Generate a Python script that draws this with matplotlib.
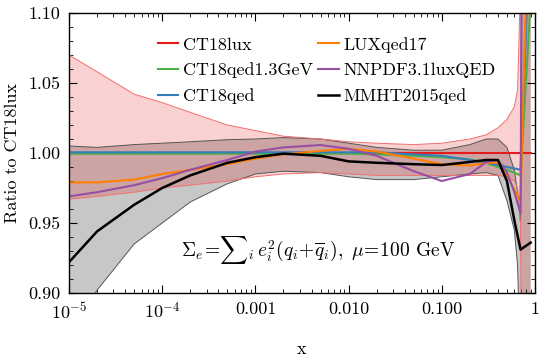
import numpy as np
import matplotlib
matplotlib.use('Agg')
import matplotlib.pyplot as plt
from matplotlib.ticker import MultipleLocator, NullFormatter

plt.rcParams['font.family'] = 'serif'
plt.rcParams['font.serif'] = ['cmr10']
plt.rcParams['mathtext.fontset'] = 'cm'
plt.rcParams['axes.unicode_minus'] = False
plt.rcParams['axes.formatter.use_mathtext'] = True

# x points for the central ratios
x_line = [1e-5, 2e-5, 5e-5, 1e-4, 2e-4, 5e-4, 1e-3, 2e-3, 5e-3, 0.01, 0.02, 0.05,
          0.1, 0.2, 0.3, 0.4, 0.5, 0.6, 0.7, 0.9]
ct18lux = [1.0]*20
ct18qed13 = [0.9995, 0.9995, 0.9995, 0.9995, 0.9995, 0.9995, 0.9995, 0.9995, 0.9995, 0.9995,
             0.999, 0.998, 0.997, 0.9955, 0.993, 0.990, 0.988, 0.986, 0.984, 1.11]
ct18qed = [1.0005, 1.0005, 1.0005, 1.0005, 1.0005, 1.0005, 1.0005, 1.0005, 1.0005, 1.0005,
           1.0005, 0.999, 0.998, 0.995, 0.993, 0.9915, 0.990, 0.989, 0.988, 1.17]
luxqed17 = [0.979, 0.979, 0.981, 0.985, 0.988, 0.992, 0.996, 0.999, 1.0015, 1.003,
            1.001, 0.996, 0.992, 0.991, 0.993, 0.993, 0.984, 0.974, 0.966, 1.24]
nnpdf = [0.969, 0.972, 0.977, 0.982, 0.988, 0.995, 1.001, 1.004, 1.0057, 1.003,
         0.998, 0.987, 0.980, 0.985, 0.9936, 0.995, 0.986, 0.972, 0.957, 2.5]
mmht = [0.922, 0.944, 0.963, 0.975, 0.984, 0.993, 0.997, 0.9995, 0.998, 0.994,
        0.993, 0.992, 0.9914, 0.9936, 0.995, 0.995, 0.980, 0.952, 0.931, 0.936]

# x points for the error bands
x_band = [1e-5, 2e-5, 5e-5, 1e-4, 2e-4, 5e-4, 1e-3, 2e-3, 5e-3, 0.01, 0.02, 0.05,
          0.1, 0.2, 0.3, 0.4, 0.5, 0.6, 0.65, 0.7, 0.75, 0.9]
lux_up = [1.070, 1.058, 1.042, 1.036, 1.029, 1.020, 1.016, 1.012, 1.010, 1.008, 1.007, 1.006,
          1.007, 1.010, 1.013, 1.018, 1.024, 1.033, 1.045, 1.12, 1.5, 1.5]
lux_lo = [0.967, 0.969, 0.972, 0.975, 0.977, 0.980, 0.983, 0.985, 0.986, 0.985, 0.984, 0.984,
          0.984, 0.984, 0.984, 0.984, 0.983, 0.980, 0.975, 0.95, 0.6, 0.5]
mmht_up = [1.005, 1.004, 1.006, 1.007, 1.008, 1.0095, 1.010, 1.011, 1.010, 1.007, 1.004, 1.002,
           1.002, 1.006, 1.010, 1.010, 1.004, 0.988, 0.972, 0.950, 1.5, 1.5]
mmht_lo = [0.87, 0.902, 0.935, 0.950, 0.965, 0.978, 0.985, 0.987, 0.986, 0.983, 0.981, 0.981,
           0.983, 0.985, 0.986, 0.984, 0.966, 0.945, 0.92, 0.85, 0.5, 0.5]

fig = plt.figure(figsize=(5.4, 3.58), dpi=100)
ax = fig.add_axes([0.1278, 0.1816, 0.8629, 0.7821])

ax.fill_between(x_band, mmht_lo, mmht_up, facecolor='black', alpha=0.22, lw=0)
ax.plot(x_band, mmht_up, color='#555555', lw=0.7)
ax.plot(x_band, mmht_lo, color='#555555', lw=0.7)
ax.fill_between(x_band, lux_lo, lux_up, facecolor='#e41a1c', alpha=0.2, lw=0)
ax.plot(x_band, lux_up, color='#f07070', lw=0.7)
ax.plot(x_band, lux_lo, color='#f07070', lw=0.7)

l0, = ax.plot(x_line, ct18lux, color='#e41a1c', lw=1.5)
l1, = ax.plot(x_line, ct18qed13, color='#4daf4a', lw=1.5)
l2, = ax.plot(x_line, ct18qed, color='#377eb8', lw=1.5)
l3, = ax.plot(x_line, luxqed17, color='#ff7f00', lw=1.5)
l4, = ax.plot(x_line, nnpdf, color='#984ea3', lw=1.5)
l5, = ax.plot(x_line, mmht, color='black', lw=1.8)

ax.set_xscale('log')
ax.set_xlim(1e-5, 1)
ax.set_ylim(0.90, 1.10)
ax.set_xticks([1e-5, 1e-4, 1e-3, 1e-2, 1e-1, 1],
              labels=[r'$10^{-5}$', r'$10^{-4}$', '0.001', '0.010', '0.100', '1'])
ax.xaxis.set_minor_formatter(NullFormatter())
ax.set_yticks([0.90, 0.95, 1.00, 1.05, 1.10],
              labels=['0.90', '0.95', '1.00', '1.05', '1.10'])
ax.yaxis.set_minor_locator(MultipleLocator(0.01))
ax.tick_params(which='both', direction='in', top=True, right=True, labelsize=13)
ax.tick_params(which='major', length=6, width=0.8, pad=6)
ax.tick_params(which='minor', length=3, width=0.6)
for s in ax.spines.values():
    s.set_linewidth(1.0)

ax.set_xlabel('x', fontsize=13, labelpad=14)
ax.set_ylabel('Ratio to CT18lux', fontsize=13, labelpad=6)

ax.legend(handles=[l0, l1, l2, l3, l4, l5],
          labels=['CT18lux', 'CT18qed1.3GeV', 'CT18qed', 'LUXqed17', 'NNPDF3.1luxQED', 'MMHT2015qed'],
          ncol=2, loc='upper left', bbox_to_anchor=(0.19, 0.915), frameon=False,
          fontsize=13, handlelength=1.15, handletextpad=0.25, columnspacing=0.3,
          labelspacing=0.55, borderpad=0, borderaxespad=0)

ax.text(0.535, 0.155, r'$\Sigma_e\!=\!{\sum}_i\, e_i^2(q_i\!+\!\overline{q}_i),\ \mu\!=\!100$ GeV',
        transform=ax.transAxes, ha='center', va='center', fontsize=14)

fig.savefig('out.png', dpi=100)
